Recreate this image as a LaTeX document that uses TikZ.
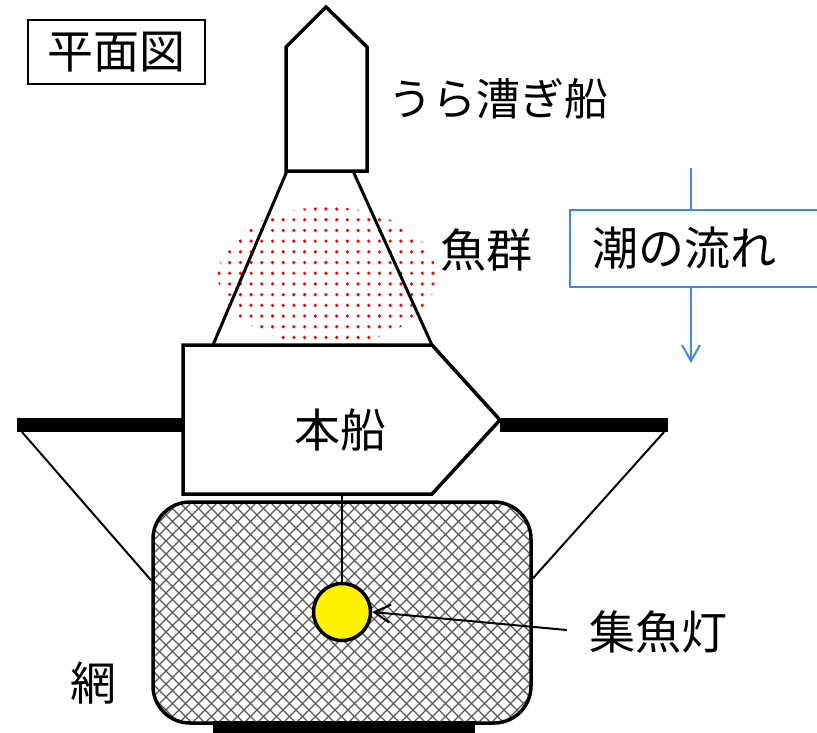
\documentclass[tikz,border=0pt]{standalone}
\usepackage{fontspec}
\newfontfamily\jpfont{Noto Sans CJK JP}
\usetikzlibrary{arrows.meta,calc}
\definecolor{tideblue}{RGB}{60,135,240}
\begin{document}
\begin{tikzpicture}[x=1pt,y=-1pt,
  jp/.style={font=\jpfont\fontsize{46}{52}\selectfont, inner sep=0pt},
  boat/.style={draw, line width=3.5pt, line join=miter, fill=white},
  bar/.style={line width=14pt},
  rope/.style={line width=2pt},
  hatch/.style={line width=1.2pt, black!65},
  barb/.style={-{Straight Barb[length=16pt,width=18pt]}},
  net/.style={draw, line width=3.5pt, rounded corners=37pt, inner sep=0pt,
    minimum width=378pt, minimum height=221pt,
    path picture={\foreach \k in {-17,...,47} {
      \draw[hatch] ($(path picture bounding box.north west)+(\k*13,0)$) -- ++(221,221);
      \draw[hatch] ($(path picture bounding box.north west)+(\k*13,0)$) -- ++(-221,221);}}}]
\clip (0,0) rectangle (817,732);
\useasboundingbox (0,0) rectangle (817,732);

% title
\node[jp, draw, line width=1.5pt, minimum width=177pt, minimum height=64pt] (plan) at (116.5,52) {平面図};

% fish school
\begin{scope}
\clip (327,276) ellipse [x radius=109, y radius=69];
\foreach \i in {0,...,20}
  \foreach \j in {0,...,13}
    \fill[red] (219+\i*10.7,209+\j*10.7) circle (1.8);
\end{scope}
\node[jp] (fish) at (486,250) {魚群};

% small boat and its lines
\draw[line width=3pt] (287,171) -- (213,345);
\draw[line width=3pt] (353,171) -- (432,345);
\draw[boat] (286,171) -- (286,47) -- (326,7) -- (367,47) -- (367,171) -- cycle;
\node[jp, font=\jpfont\fontsize{44}{50}\selectfont] (oar) at (498,99) {うら漕ぎ船};

% tide
\node[jp, draw=tideblue, line width=2pt, anchor=west, minimum height=77pt,
  inner xsep=22pt, text width=225pt, align=left] (tide) at (569,248.5) {潮の流れ};
\coordinate (tide top) at (691,168);
\coordinate (tide tip) at (691,363);
\draw[tideblue, line width=2pt] (tide top) -- (tide top |- tide.north);
\draw[tideblue, line width=2pt, barb] (tide top |- tide.south) -- (tide tip);

% net
\draw[bar] (213,728) -- (475,728);
\node[net] (net) at (342,612.5) {};
\node[jp] (netlabel) at (93,683) {網};

% main boat with its booms
\coordinate (left end) at (17,425);
\coordinate (right end) at (668,425);
\draw[bar] (left end) -- (183,425);
\draw[bar] (500,425) -- (right end);
\draw[rope] (left end) ++(5,7) -- ($(net.west)+(0,-32)$);
\draw[rope] (right end) ++(-4,7) -- ($(net.east)+(0,-34)$);
\draw[boat] (183,345) -- (432,345) -- (500,420) -- (432,494) -- (183,494) -- cycle;
\node[jp] (main) at (340,430) {本船};
\coordinate (keel) at (342,494);

% lamp
\node[circle, draw, line width=3.5pt, fill=yellow, minimum size=57pt, inner sep=0pt] (lamp) at (342,612) {};
\draw[rope] (keel) -- (lamp.north);
\node[jp] (lamplabel) at (658,632) {集魚灯};
\draw[rope, barb] (lamplabel.west) ++(-22,-2) -- (lamp.east);
\end{tikzpicture}
\end{document}
